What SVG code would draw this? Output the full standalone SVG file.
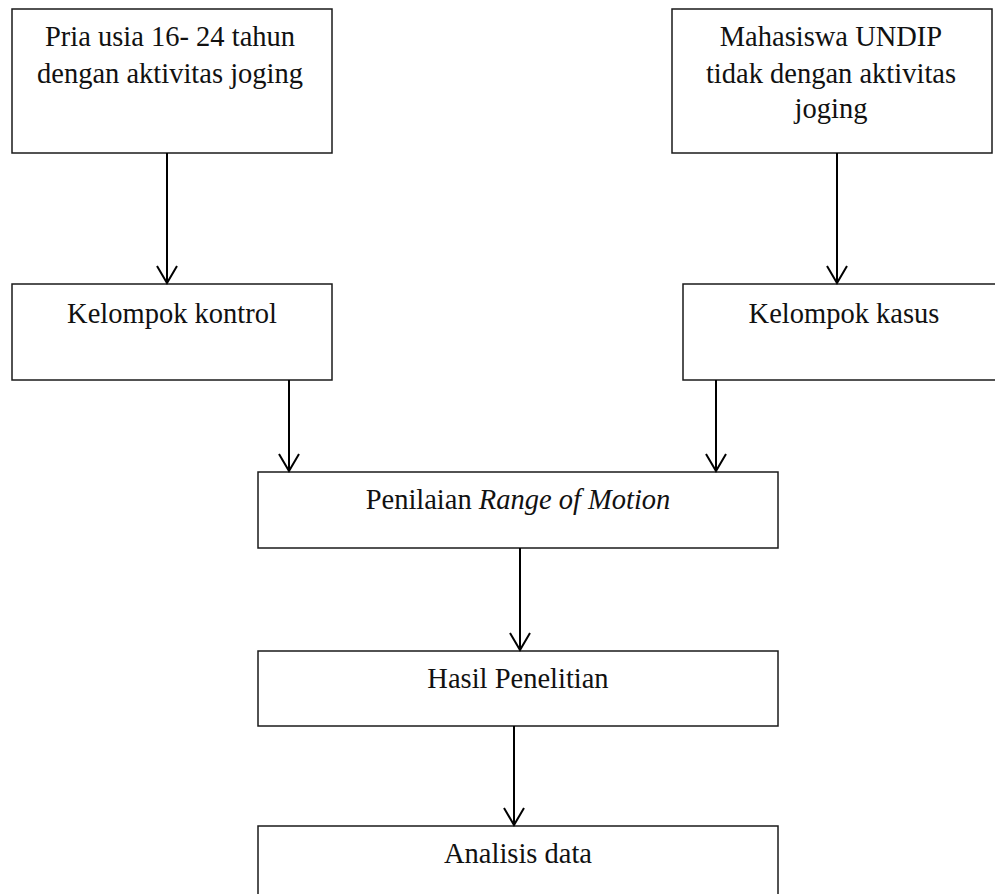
<svg xmlns="http://www.w3.org/2000/svg" width="995" height="894" viewBox="0 0 995 894">
<style>
.box{fill:#fff;stroke:#1a1a1a;stroke-width:1.5}
.t{font-family:"Liberation Serif","Times New Roman",serif;font-size:28.5px;fill:#111;text-anchor:middle}
.c{fill:none;stroke:#000;stroke-width:2;marker-end:url(#ah)}
</style>
<defs>
<marker id="ah" viewBox="-20 -12 22 24" refX="0" refY="0" markerWidth="22" markerHeight="24" markerUnits="userSpaceOnUse" orient="auto" overflow="visible">
<path d="M-17 -10L0 0L-17 10" fill="none" stroke="#000" stroke-width="2"/>
</marker>
</defs>
<rect width="995" height="894" fill="#fff"/>
<g id="n1"><rect class="box" x="12" y="9" width="320" height="144"/>
<text class="t" x="170" y="46">Pria usia 16- 24 tahun</text>
<text class="t" x="170" y="83">dengan aktivitas joging</text></g>
<g id="n2"><rect class="box" x="672" y="9" width="320" height="144"/>
<text class="t" x="831" y="46">Mahasiswa UNDIP</text>
<text class="t" x="831" y="83">tidak dengan aktivitas</text>
<text class="t" x="831" y="118">joging</text></g>
<g id="n3"><rect class="box" x="12" y="284" width="320" height="96"/>
<text class="t" x="172" y="323">Kelompok kontrol</text></g>
<g id="n4"><rect class="box" x="683" y="284" width="330" height="96"/>
<text class="t" x="844" y="323">Kelompok kasus</text></g>
<g id="n5"><rect class="box" x="258" y="472" width="520" height="76"/>
<text class="t" x="518" y="509">Penilaian <tspan font-style="italic">Range of Motion</tspan></text></g>
<g id="n6"><rect class="box" x="258" y="651" width="520" height="75"/>
<text class="t" x="518" y="688">Hasil Penelitian</text></g>
<g id="n7"><rect class="box" x="258" y="826" width="520" height="90"/>
<text class="t" x="518" y="863">Analisis data</text></g>
<g id="connectors">
<path class="c" d="M167 153V283"/>
<path class="c" d="M837 153V283"/>
<path class="c" d="M289 380V471"/>
<path class="c" d="M716 380V471"/>
<path class="c" d="M520 548V650"/>
<path class="c" d="M514 726V825"/>
</g>
</svg>
